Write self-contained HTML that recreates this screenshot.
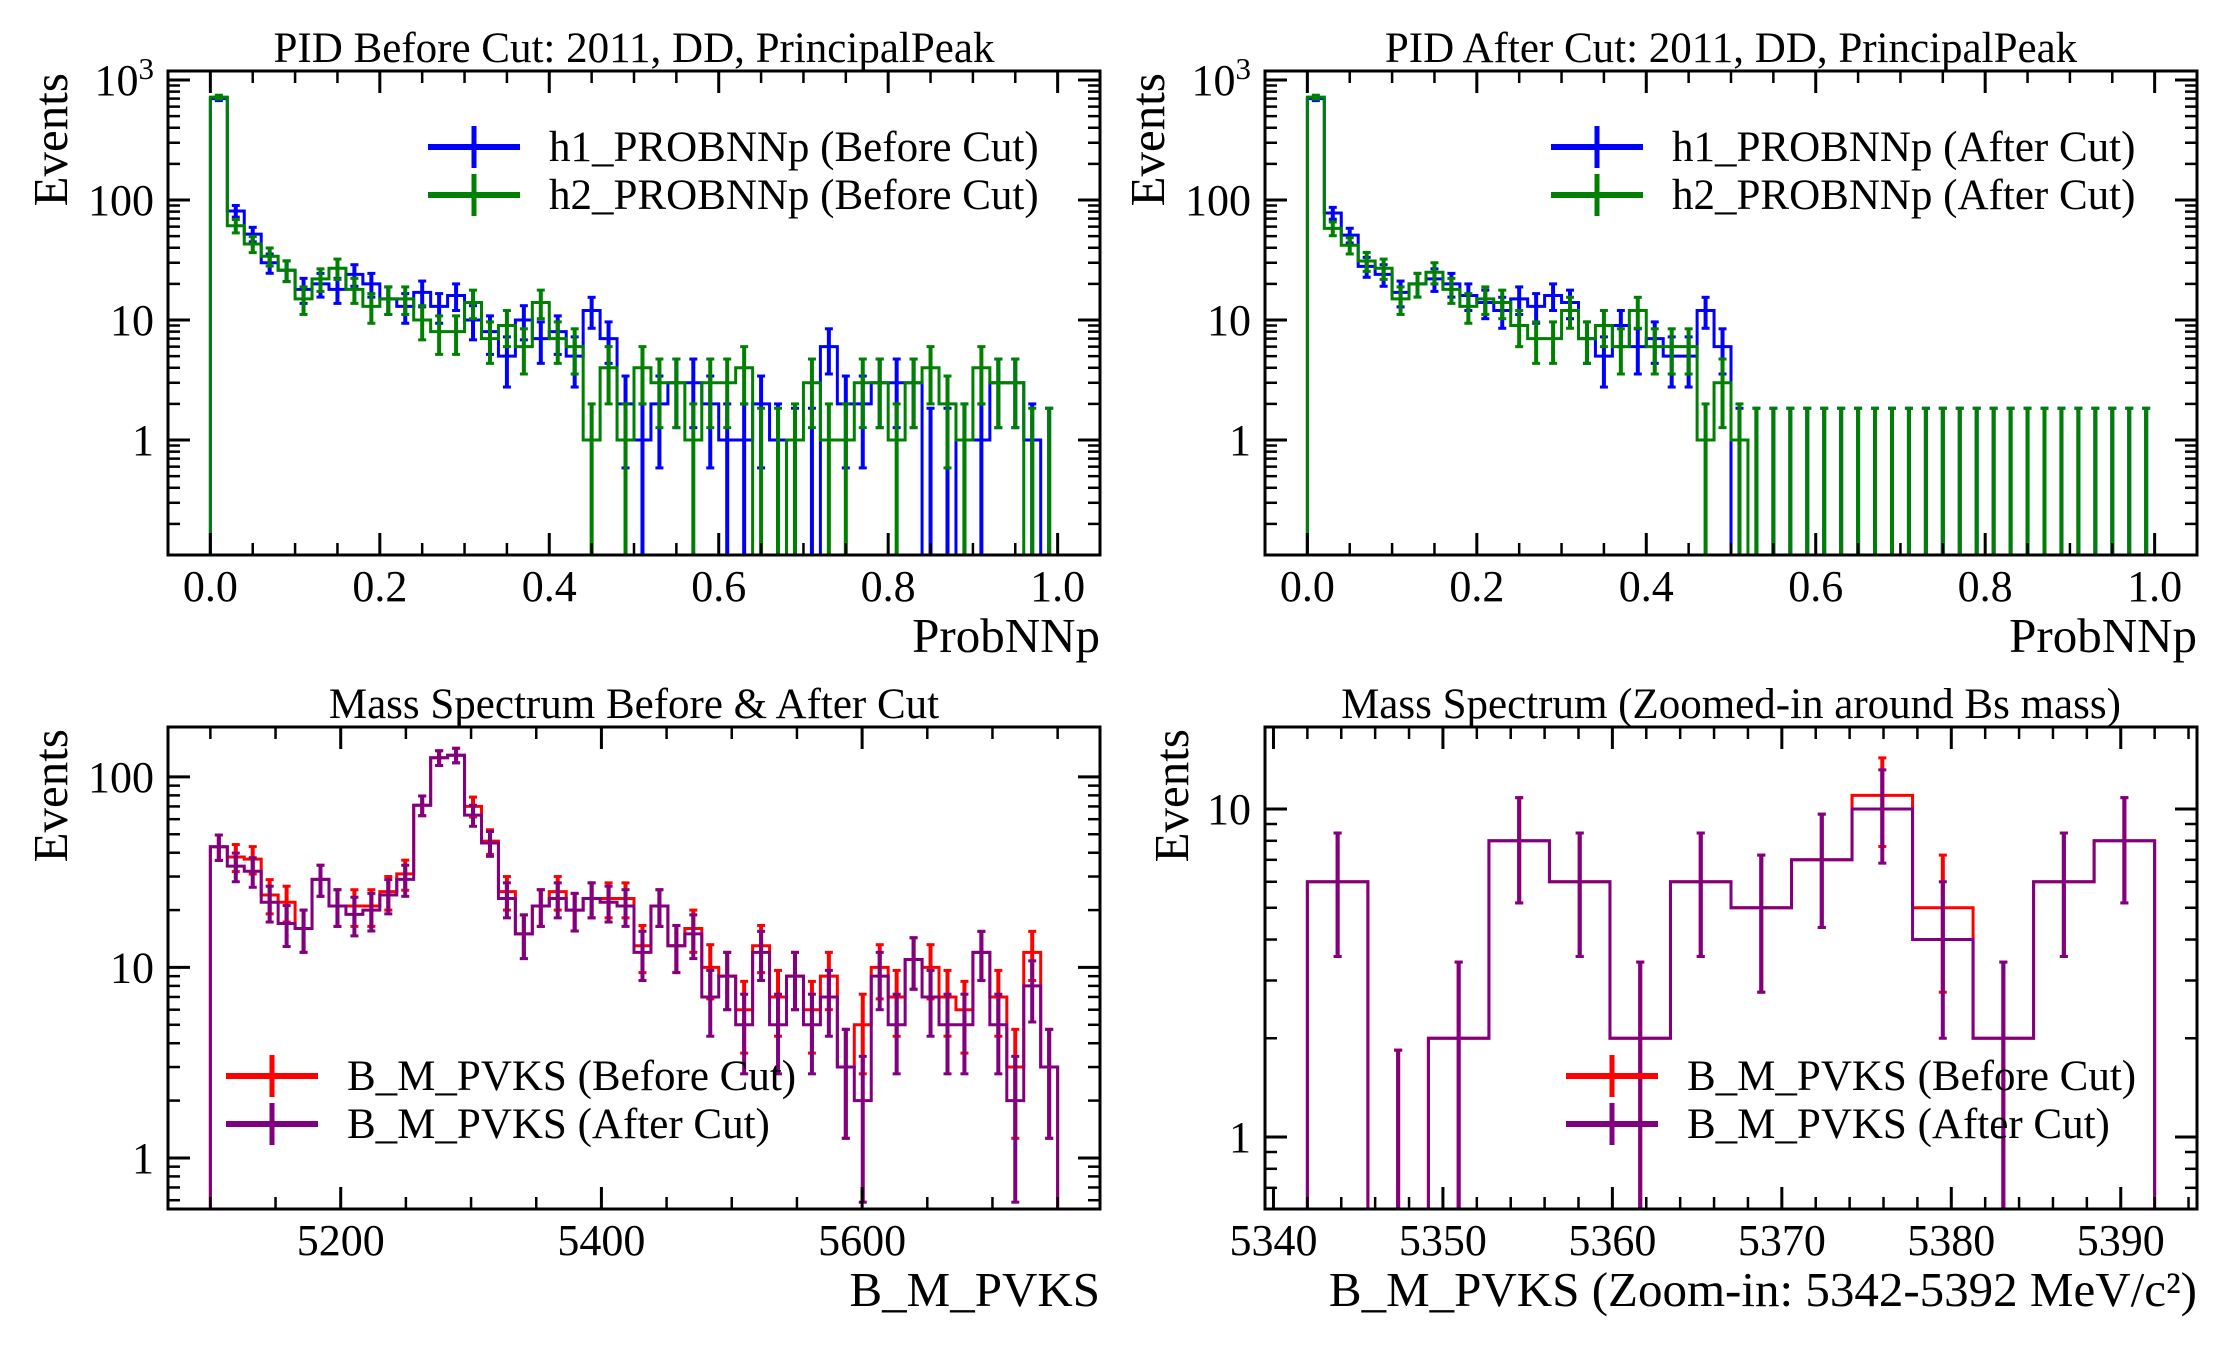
<!DOCTYPE html>
<html><head><meta charset="utf-8">
<style>
html,body{margin:0;padding:0;background:#fff;}
svg{display:block;font-family:"Liberation Serif","DejaVu Serif",serif;}
</style></head>
<body>
<svg id="fig" width="2230" height="1350" viewBox="0 0 2230 1350" xmlns="http://www.w3.org/2000/svg">
<rect x="0" y="0" width="2230" height="1350" fill="#fff"/>
</svg>
<script>
// ---- data ----
const pidBins = 50;
const h1Before = [700,81,52,30,26,18,20,18,24,20,15,13,17,13,16,10,8,5,10,7,8,5,12,7,2,1,2,3,3,2,1,1,2,1,0,0,6,2,2,3,3,3,0,0,1,1,3,3,1,0];
const h2Before = [720,61,43,34,26,15,22,27,18,13,15,15,10,8,8,14,7,9,6,14,7,6,1,4,1,4,3,3,1,3,3,4,0,0,1,3,1,1,3,3,1,3,4,2,1,4,3,3,0,0];
const h1After = [700,78,51,28,24,17,20,22,20,16,14,12,15,13,16,14,7,5,9,6,7,5,5,12,6,0,0,0,0,0,0,0,0,0,0,0,0,0,0,0,0,0,0,0,0,0,0,0,0,0];
const h2After = [720,58,42,31,27,15,20,25,18,13,15,14,9,7,7,12,7,9,6,12,6,6,6,1,3,1,0,0,0,0,0,0,0,0,0,0,0,0,0,0,0,0,0,0,0,0,0,0,0,0];
const massBefore = [43,38,37,24,22,16,29,21,21,21,25,31,71,126,130,70,46,25,15,21,25,20,23,23,23,13,21,13,16,10,9,6,13,7,9,6,9,3,5,10,7,11,10,7,6,12,7,3,12,3];
const massAfter = [43,34,32,22,17,16,29,21,19,20,24,29,71,126,130,63,45,23,15,21,23,20,23,22,21,12,21,13,15,7,9,5,12,5,9,5,7,3,2,9,5,11,7,5,5,12,5,2,8,3];
const zoomBefore = [6,0,2,8,6,2,6,5,7,11,5,2,6,8];
const zoomAfter = [6,0,2,8,6,2,6,5,7,10,4,2,6,8];
const pidXTicks = [0,0.2,0.4,0.6,0.8,1.0];
const pidXTickLabels = ["0.0","0.2","0.4","0.6","0.8","1.0"];
const massXTicks = [5200,5400,5600];
const massXTickLabels = ["5200","5400","5600"];
const zoomXTicks = [5340,5350,5360,5370,5380,5390];
const zoomXTickLabels = ["5340","5350","5360","5370","5380","5390"];

const NS = "http://www.w3.org/2000/svg";
const svg = document.getElementById('fig');
function mk(tag, attrs, parent){
  const e = document.createElementNS(NS, tag);
  for (const k in attrs) e.setAttribute(k, attrs[k]);
  (parent||svg).appendChild(e);
  return e;
}

function drawPanel(p){
  const g = mk('g', {});
  
  
  const X = v => p.x0 + (v - p.xmin) / (p.xmax - p.xmin) * (p.x1 - p.x0);
  const Y = v => {
    const lv = Math.log10(Math.max(v, 1e-4));
    return p.y1 - (lv - p.lmin) / (p.lmax - p.lmin) * (p.y1 - p.y0);
  };
  const clipId = 'clip-' + p.name;
  const cp = mk('clipPath', {id: clipId}, g);
  mk('rect', {x: p.x0, y: p.y0, width: p.x1 - p.x0, height: p.y1 - p.y0}, cp);
  const plot = mk('g', {'clip-path': 'url(#' + clipId + ')'}, g);

  p.series.forEach(s => {
    const n = s.values.length;
    const w = (p.hmax - p.hmin) / n;
    let d = 'M' + X(p.hmin) + ' ' + (p.y1 + 10);
    for (let i = 0; i < n; i++) {
      const yy = s.values[i] > 0 ? Y(s.values[i]) : p.y1 + 10;
      d += ' L' + X(p.hmin + i * w) + ' ' + yy + ' L' + X(p.hmin + (i + 1) * w) + ' ' + yy;
    }
    d += ' L' + X(p.hmax) + ' ' + (p.y1 + 10);
    const path = mk('path', {d: d, fill: 'none', stroke: s.color, 'stroke-width': 3}, plot);
    
    
    for (let i = 0; i < n; i++) {
      const v = s.values[i];
      const cx = X(p.hmin + (i + 0.5) * w);
      let lo, hi;
      if (v > 0) { lo = v - Math.sqrt(v); hi = v + Math.sqrt(v); }
      else { lo = 0; hi = 1.84; }
      const yl = lo > 0 ? Y(lo) : p.y1 + 10;
      const yh = Y(hi);
      const eb = mk('line', {x1: cx, x2: cx, y1: yl, y2: yh, stroke: s.color, 'stroke-width': 4}, plot);
      
      
      mk('line', {x1: cx - 4, x2: cx + 4, y1: yh, y2: yh, stroke: s.color, 'stroke-width': 3}, plot);
      if (lo > 0) mk('line', {x1: cx - 4, x2: cx + 4, y1: yl, y2: yl, stroke: s.color, 'stroke-width': 3}, plot);
    }
  });

  const fr = mk('rect', {x: p.x0, y: p.y0, width: p.x1 - p.x0, height: p.y1 - p.y0, fill: 'none', stroke: '#000', 'stroke-width': 3}, g);
  
  

  for (let v = p.xminorStart; v <= p.xmax + 1e-9; v += p.xminorStep) {
    const xx = X(v);
    if (xx < p.x0 + 1 || xx > p.x1 - 1) continue;
    const isMajor = p.xticks.some(t => Math.abs(t - v) < 1e-6);
    const L = isMajor ? 22 : 12;
    mk('line', {x1: xx, x2: xx, y1: p.y1, y2: p.y1 - L, stroke: '#000', 'stroke-width': isMajor ? 3 : 2.5}, g);
    mk('line', {x1: xx, x2: xx, y1: p.y0, y2: p.y0 + L, stroke: '#000', 'stroke-width': isMajor ? 3 : 2.5}, g);
  }
  p.xticks.forEach((t, i) => {
    const tl = mk('text', {x: X(t), y: p.y1 + 46, 'font-size': 44, 'text-anchor': 'middle', fill: '#000'}, g);
    tl.textContent = p.xlabels[i];
    
    
  });
  for (let dec = Math.floor(p.lmin); dec <= Math.ceil(p.lmax); dec++) {
    for (let m = 1; m <= 9; m++) {
      const v = m * Math.pow(10, dec);
      const lv = Math.log10(v);
      if (lv < p.lmin || lv > p.lmax) continue;
      const yy = Y(v);
      const L = m === 1 ? 22 : 12;
      mk('line', {x1: p.x0, x2: p.x0 + L, y1: yy, y2: yy, stroke: '#000', 'stroke-width': m === 1 ? 3 : 2.5}, g);
      mk('line', {x1: p.x1, x2: p.x1 - L, y1: yy, y2: yy, stroke: '#000', 'stroke-width': m === 1 ? 3 : 2.5}, g);
      if (m === 1) {
        const tl = mk('text', {x: p.x0 - 14, y: yy + 15, 'font-size': 44, 'text-anchor': 'end', fill: '#000'}, g);
        
        
        if (dec >= 3) {
          tl.textContent = '10';
          const sup = mk('tspan', {dy: -16, 'font-size': 31}, tl);
          sup.textContent = String(dec);
        } else {
          tl.textContent = String(Math.round(v));
        }
      }
    }
  }
  const tt = mk('text', {x: (p.x0 + p.x1) / 2, y: p.y0 - 9, 'font-size': 43, 'text-anchor': 'middle', fill: '#000'}, g);
  tt.textContent = p.title;
  
  
  const xt = mk('text', {x: p.x1, y: p.y1 + 97, 'font-size': 49, 'text-anchor': 'end', fill: '#000'}, g);
  xt.textContent = p.xtitle;
  
  
  const yt = mk('text', {x: 0, y: 0, 'font-size': 49, 'text-anchor': 'end', fill: '#000', transform: 'translate(' + (p.ytx) + ',' + (p.y0 + 2) + ') rotate(-90)'}, g);
  yt.textContent = 'Events';
  
  

  p.series.forEach((s, i) => {
    const ly = p.legY + i * 48;
    const lg = mk('g', {}, g);
    
    
    mk('line', {x1: p.legX, x2: p.legX + 92, y1: ly, y2: ly, stroke: s.color, 'stroke-width': 6}, lg);
    mk('line', {x1: p.legX + 46, x2: p.legX + 46, y1: ly - 21, y2: ly + 21, stroke: s.color, 'stroke-width': 5}, lg);
    const lt = mk('text', {x: p.legX + 121, y: ly + 14, 'font-size': 43, fill: '#000'}, lg);
    lt.textContent = s.label;
  });
}

drawPanel({name: 'pid-before-panel', x0: 168, x1: 1100, y0: 71, y1: 555, xmin: -0.05, xmax: 1.05, lmin: -0.958, lmax: 3.075,
  hmin: 0, hmax: 1, xticks: pidXTicks, xlabels: pidXTickLabels, xminorStart: 0, xminorStep: 0.05,
  title: 'PID Before Cut: 2011, DD, PrincipalPeak', xtitle: 'ProbNNp', ytx: 67, legX: 428, legY: 147,
  series: [{key: 'h1-before', color: '#0000ff', values: h1Before, label: 'h1_PROBNNp (Before Cut)'},
           {key: 'h2-before', color: '#008000', values: h2Before, label: 'h2_PROBNNp (Before Cut)'}]});
drawPanel({name: 'pid-after-panel', x0: 1265, x1: 2197, y0: 71, y1: 555, xmin: -0.05, xmax: 1.05, lmin: -0.958, lmax: 3.075,
  hmin: 0, hmax: 1, xticks: pidXTicks, xlabels: pidXTickLabels, xminorStart: 0, xminorStep: 0.05,
  title: 'PID After Cut: 2011, DD, PrincipalPeak', xtitle: 'ProbNNp', ytx: 1164, legX: 1551, legY: 147,
  series: [{key: 'h1-after', color: '#0000ff', values: h1After, label: 'h1_PROBNNp (After Cut)'},
           {key: 'h2-after', color: '#008000', values: h2After, label: 'h2_PROBNNp (After Cut)'}]});
drawPanel({name: 'mass-panel', x0: 168, x1: 1100, y0: 727, y1: 1209, xmin: 5067.5, xmax: 5782.5, lmin: -0.268, lmax: 2.262,
  hmin: 5100, hmax: 5750, xticks: massXTicks, xlabels: massXTickLabels, xminorStart: 5100, xminorStep: 50,
  title: 'Mass Spectrum Before & After Cut', xtitle: 'B_M_PVKS', ytx: 67, legX: 226, legY: 1076,
  series: [{key: 'mass-before', color: '#ff0000', values: massBefore, label: 'B_M_PVKS (Before Cut)'},
           {key: 'mass-after', color: '#800080', values: massAfter, label: 'B_M_PVKS (After Cut)'}]});
drawPanel({name: 'mass-zoom-panel', x0: 1265, x1: 2197, y0: 727, y1: 1209, xmin: 5339.5, xmax: 5394.5, lmin: -0.2195, lmax: 1.25,
  hmin: 5342, hmax: 5392, xticks: zoomXTicks, xlabels: zoomXTickLabels, xminorStart: 5340, xminorStep: 2,
  title: 'Mass Spectrum (Zoomed-in around Bs mass)', xtitle: 'B_M_PVKS (Zoom-in: 5342-5392 MeV/c²)', ytx: 1188, legX: 1566, legY: 1076,
  series: [{key: 'zoom-before', color: '#ff0000', values: zoomBefore, label: 'B_M_PVKS (Before Cut)'},
           {key: 'zoom-after', color: '#800080', values: zoomAfter, label: 'B_M_PVKS (After Cut)'}]});
</script>
</body></html>
